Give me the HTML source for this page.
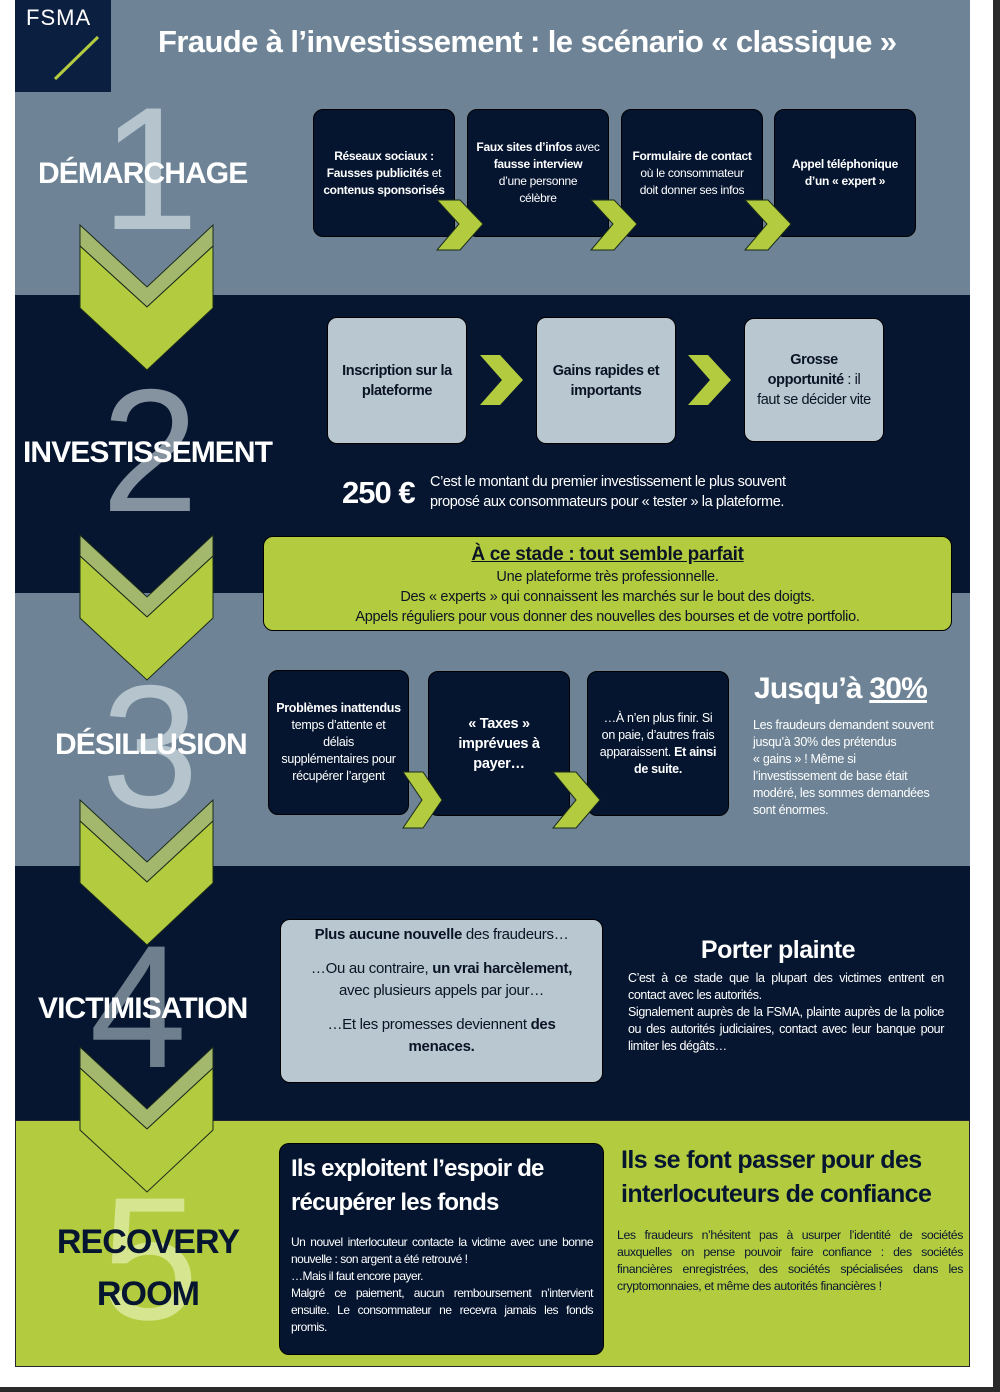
<!DOCTYPE html>
<html><head><meta charset="utf-8">
<style>
*{margin:0;padding:0;box-sizing:border-box}
body{width:1000px;height:1392px;background:#fff;position:relative;overflow:hidden;font-family:"Liberation Sans",sans-serif;}
.a{position:absolute}
.sec{position:absolute;left:15px;width:955px}
.box{position:absolute;border-radius:10px;display:flex;align-items:center;justify-content:center;text-align:center;border:1px solid #000}
.dk{background:#051530;color:#fff;font-size:12px;line-height:17px;letter-spacing:-0.3px}
.lt{background:#b9c7d0;color:#0b1424;font-size:14.5px;line-height:20px;letter-spacing:-0.4px;font-weight:bold}
.num{position:absolute;font-size:175px;line-height:180px;font-family:"Liberation Sans",sans-serif;width:100px;text-align:center}
.lab{position:absolute;font-weight:bold;font-size:30px;color:#fff;letter-spacing:-0.9px;white-space:nowrap}
b{font-weight:bold}
</style></head><body>
<div class="sec" style="top:0;height:295px;background:#6e8496"></div>
<div class="sec" style="top:295px;height:298px;background:#061630"></div>
<div class="sec" style="top:593px;height:273px;background:#6e8496"></div>
<div class="sec" style="top:866px;height:254px;background:#061630"></div>
<div class="sec" style="top:1120px;height:247px;background:#b3cb3f;border:1px solid #223"></div>
<div class="a" style="left:0;top:1387px;width:1000px;height:5px;background:#2a2a2a"></div>
<div class="a" style="left:993px;top:0;width:7px;height:1392px;background:#2a2a2a"></div>

<!-- logo -->
<div class="a" style="left:15px;top:0;width:96px;height:92px;background:#0b1f40"></div>
<div class="a" style="left:26px;top:5px;color:#fff;font-size:22px;letter-spacing:1px">FSMA</div>
<svg class="a" style="left:15px;top:0" width="96" height="92"><line x1="40" y1="79" x2="83" y2="37" stroke="#b3cb3f" stroke-width="3"/></svg>
<div class="a" style="left:158px;top:24px;color:#fff;font-weight:bold;font-size:31px;letter-spacing:-0.6px;white-space:nowrap">Fraude à l’investissement : le scénario « classique »</div>

<!-- big numbers -->
<div class="num" style="left:100px;top:80px;color:#b5c4cd">1</div>
<div class="num" style="left:100px;top:362px;color:#8592a0">2</div>
<div class="num" style="left:100px;top:658px;color:#b5c4cd">3</div>
<div class="num" style="left:88px;top:918px;color:#6f7f8d">4</div>
<div class="num" style="left:100px;top:1170px;color:#d6e58f">5</div>

<!-- chevrons -->
<svg class="a" style="left:0;top:0" width="1000" height="1392">
<g stroke="#1a2a1a" stroke-width="1">
<polygon points="80,225 147,287 213,225 213,246 147,307 80,246" fill="#a4b86d"/><polygon points="80,246 147,307 213,246 213,308 147,370 80,308" fill="#b3cb3f"/>
<polygon points="80,535 147,597 213,535 213,556 147,617 80,556" fill="#a4b86d"/><polygon points="80,556 147,617 213,556 213,618 147,680 80,618" fill="#b3cb3f"/>
<polygon points="80,800 147,862 213,800 213,821 147,882 80,821" fill="#a4b86d"/><polygon points="80,821 147,882 213,821 213,883 147,945 80,883" fill="#b3cb3f"/>
<polygon points="80,1047 147,1109 213,1047 213,1068 147,1129 80,1068" fill="#a4b86d"/><polygon points="80,1068 147,1129 213,1068 213,1130 147,1192 80,1130" fill="#b3cb3f"/>
</g>
</svg>
<div class="num" style="left:100px;top:80px;color:#b5c4cd">1</div>

<div class="lab" style="left:38px;top:157px">DÉMARCHAGE</div>
<div class="lab" style="left:23px;top:436px">INVESTISSEMENT</div>
<div class="lab" style="left:55px;top:728px">DÉSILLUSION</div>
<div class="lab" style="left:38px;top:992px">VICTIMISATION</div>
<div class="lab" style="left:48px;top:1216px;color:#061630;font-size:34px;width:200px;text-align:center;line-height:52px">RECOVERY<br>ROOM</div>

<!-- section 1 boxes -->
<div class="box dk" style="left:313px;top:109px;width:142px;height:128px;font-weight:bold"><div>Réseaux sociaux :<br>Fausses publicités <span style="font-weight:normal">et</span><br>contenus sponsorisés</div></div>
<div class="box dk" style="left:467px;top:109px;width:142px;height:128px"><div><b>Faux sites d’infos</b> avec<br><b>fausse interview</b><br>d’une personne<br>célèbre</div></div>
<div class="box dk" style="left:621px;top:109px;width:142px;height:128px"><div><b>Formulaire de contact</b><br>où le consommateur<br>doit donner ses infos</div></div>
<div class="box dk" style="left:774px;top:109px;width:142px;height:128px;font-weight:bold"><div>Appel téléphonique<br>d’un « expert »</div></div>

<svg class="a" style="left:0;top:0" width="1000" height="1392">
<g fill="#b3cb3f" stroke="#1a2a1a" stroke-width="1">
<polygon points="437,200 460,200 483,224 460,250 437,250 459,224"/>
<polygon points="591,200 614,200 637,224 614,250 591,250 613,224"/>
<polygon points="745,200 768,200 791,224 768,250 745,250 767,224"/>
<polygon points="480,355 500,355 523,380 500,405 480,405 502,380" stroke="none"/>
<polygon points="688,355 708,355 731,380 708,405 688,405 710,380" stroke="none"/>
</g></svg>

<!-- section 2 -->
<div class="box lt" style="left:327px;top:317px;width:140px;height:127px"><div>Inscription sur la<br>plateforme</div></div>
<div class="box lt" style="left:536px;top:317px;width:140px;height:127px"><div>Gains rapides et<br>importants</div></div>
<div class="box lt" style="left:744px;top:318px;width:140px;height:124px"><div>Grosse<br>opportunité <span style="font-weight:normal">: il<br>faut se décider vite</span></div></div>
<div class="a" style="left:342px;top:475px;color:#fff;font-weight:bold;font-size:31px;letter-spacing:-1px">250 €</div>
<div class="a" style="left:430px;top:472px;color:#fff;font-size:14.5px;line-height:20px;letter-spacing:-0.4px;white-space:nowrap">C’est le montant du premier investissement le plus souvent<br>proposé aux consommateurs pour « tester » la plateforme.</div>
<div class="box" style="left:263px;top:536px;width:689px;height:95px;background:#b3cb3f;color:#0b1424;font-size:14.5px;line-height:20px;letter-spacing:-0.3px;display:block;padding-top:6px"><div style="font-weight:bold;font-size:19px;text-decoration:underline;line-height:24px">À ce stade : tout semble parfait</div>Une plateforme très professionnelle.<br>Des « experts » qui connaissent les marchés sur le bout des doigts.<br>Appels réguliers pour vous donner des nouvelles des bourses et de votre portfolio.</div>

<!-- section 3 -->
<div class="box dk" style="left:268px;top:670px;width:141px;height:145px;font-size:12.5px"><div><b>Problèmes inattendus</b><br>temps d’attente et<br>délais<br>supplémentaires pour<br>récupérer l’argent</div></div>
<div class="box dk" style="left:428px;top:671px;width:142px;height:145px;font-weight:bold;font-size:14.5px;line-height:20px"><div>« Taxes »<br>imprévues à<br>payer…</div></div>
<div class="box dk" style="left:587px;top:671px;width:142px;height:145px;font-size:12.5px"><div>…À n’en plus finir. Si<br>on paie, d’autres frais<br>apparaissent. <b>Et ainsi<br>de suite.</b></div></div>
<svg class="a" style="left:0;top:0" width="1000" height="1392"><g fill="#b3cb3f" stroke="#1a2a1a" stroke-width="1">
<polygon points="403,772 423,772 442,800 423,828 403,828 422,800"/>
<polygon points="553,772 576,772 600,800 576,828 553,828 576,800"/></g></svg>
<div class="a" style="left:754px;top:672px;color:#fff;font-weight:bold;font-size:30px;letter-spacing:-0.8px">Jusqu’à <u>30%</u></div>
<div class="a" style="left:753px;top:717px;color:#fff;font-size:12.5px;line-height:17px;letter-spacing:-0.3px;white-space:nowrap">Les fraudeurs demandent souvent<br>jusqu’à 30% des prétendus<br>« gains » ! Même si<br>l’investissement de base était<br>modéré, les sommes demandées<br>sont énormes.</div>

<!-- section 4 -->
<div class="box" style="left:280px;top:919px;width:323px;height:164px;background:#b9c7d0;color:#0b1424;font-size:15px;line-height:22px;letter-spacing:-0.3px;display:block;padding-top:4px"><b>Plus aucune nouvelle</b> des fraudeurs…<br><div style="height:12px"></div>…Ou au contraire, <b>un vrai harcèlement,</b><br>avec plusieurs appels par jour…<br><div style="height:12px"></div>…Et les promesses deviennent <b>des<br>menaces.</b></div>
<div class="a" style="left:628px;top:936px;width:300px;text-align:center;color:#fff;font-weight:bold;font-size:25px;letter-spacing:-0.5px">Porter plainte</div>
<div class="a" style="left:628px;top:970px;width:316px;color:#fff;font-size:12.5px;line-height:17px;letter-spacing:-0.4px;text-align:justify">C’est à ce stade que la plupart des victimes entrent en contact avec les autorités.<br>Signalement auprès de la FSMA, plainte auprès de la police ou des autorités judiciaires, contact avec leur banque pour limiter les dégâts…</div>

<!-- section 5 -->
<div class="box" style="left:279px;top:1143px;width:325px;height:212px;background:#051530;color:#fff;display:block;text-align:left;padding:8px 10px 0 11px">
<div style="font-weight:bold;font-size:24px;line-height:34px;letter-spacing:-0.8px">Ils exploitent l’espoir de récupérer les fonds</div>
<div style="margin-top:14px;font-size:12px;line-height:17px;letter-spacing:-0.5px;text-align:justify">Un nouvel interlocuteur contacte la victime avec une bonne nouvelle : son argent a été retrouvé !<br>…Mais il faut encore payer.<br>Malgré ce paiement, aucun remboursement n’intervient ensuite. Le consommateur ne recevra jamais les fonds promis.</div></div>
<div class="a" style="left:621px;top:1143px;color:#061630;font-weight:bold;font-size:25px;line-height:34px;letter-spacing:-0.6px;white-space:nowrap">Ils se font passer pour des<br>interlocuteurs de confiance</div>
<div class="a" style="left:617px;top:1227px;width:346px;color:#061630;font-size:12.3px;line-height:17px;letter-spacing:-0.4px;text-align:justify">Les fraudeurs n’hésitent pas à usurper l’identité de sociétés auxquelles on pense pouvoir faire confiance : des sociétés financières enregistrées, des sociétés spécialisées dans les cryptomonnaies, et même des autorités financières !</div>
</body></html>
